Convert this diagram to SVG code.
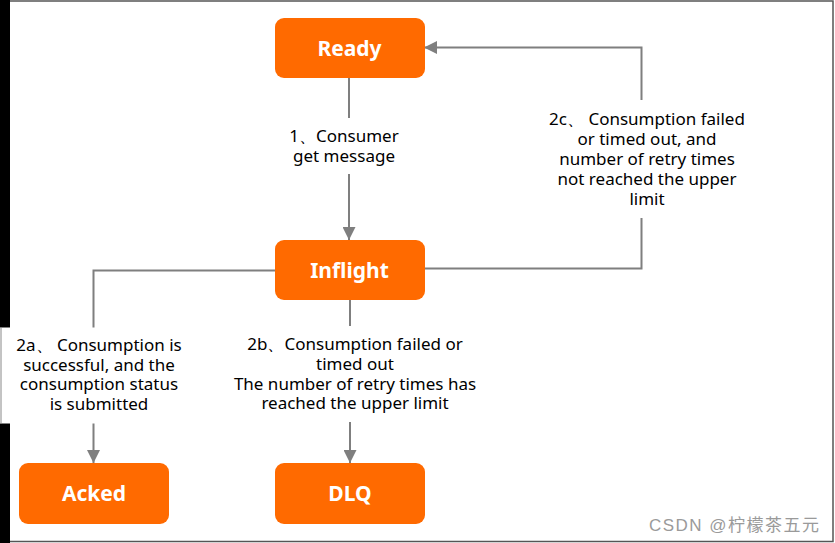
<svg xmlns="http://www.w3.org/2000/svg" width="835" height="543" viewBox="0 0 835 543">
<defs>
<style>
.node rect{fill:#FF6A00}
.node text{fill:#fff;font-family:"Noto Sans","Open Sans",sans-serif;font-size:21px;font-weight:bold;text-anchor:middle}
.conn{fill:none;stroke:#7f7f7f;stroke-width:2}
.lbl text{fill:#000;font-family:"Noto Sans","Open Sans",sans-serif;font-size:17px;text-anchor:middle}
.lbl rect{fill:#fff}
</style>
<marker id="arr" markerUnits="userSpaceOnUse" markerWidth="13" markerHeight="13" viewBox="0 0 13 13" refX="13" refY="6.5" orient="auto">
<path d="M0,0 L13,6.5 L0,13 z" fill="#7f7f7f"/>
</marker>
</defs>
<rect x="0" y="0" width="835" height="543" fill="#fff"/>
<rect x="0" y="0" width="10" height="543" fill="#000"/>
<path d="M10 1 H833 V541.5 H10" fill="none" stroke="#555" stroke-width="1.5"/>

<g id="connectors">
<path class="conn" d="M349 78 V240" marker-end="url(#arr)"/>
<path class="conn" d="M424 268.5 H641.5 V47.5 H424" marker-end="url(#arr)"/>
<path class="conn" d="M275 270.5 H93.5 V463" marker-end="url(#arr)"/>
<path class="conn" d="M350 300 V463" marker-end="url(#arr)"/>
</g>

<g id="label1" class="lbl">
<rect x="285" y="118" width="120" height="56"/>
<text x="344" y="142">1、Consumer</text>
<text x="344" y="162">get message</text>
</g>
<g id="label2c" class="lbl">
<rect x="540" y="100" width="215" height="118"/>
<text x="647" y="125">2c、 Consumption failed</text>
<text x="647" y="145">or timed out, and</text>
<text x="647" y="165">number of retry times</text>
<text x="647" y="185">not reached the upper</text>
<text x="647" y="205">limit</text>
</g>
<g id="label2a" class="lbl">
<rect x="0" y="327.5" width="188" height="96"/>
<line x1="1" y1="328" x2="1" y2="423" stroke="#888" stroke-width="1"/>
<text x="99" y="351">2a、 Consumption is</text>
<text x="99" y="371">successful, and the</text>
<text x="99" y="390">consumption status</text>
<text x="99" y="410">is submitted</text>
</g>
<g id="label2b" class="lbl">
<rect x="218" y="326" width="274" height="96"/>
<text x="355" y="350">2b、Consumption failed or</text>
<text x="355" y="370">timed out</text>
<text x="355" y="390">The number of retry times has</text>
<text x="355" y="409">reached the upper limit</text>
</g>

<g id="ready" class="node"><rect x="275" y="18" width="150" height="60" rx="9"/><text x="349.5" y="55.5">Ready</text></g>
<g id="inflight" class="node"><rect x="275" y="240" width="150" height="60" rx="9"/><text x="349.5" y="278">Inflight</text></g>
<g id="acked" class="node"><rect x="19" y="463" width="150" height="61" rx="9"/><text x="94" y="501">Acked</text></g>
<g id="dlq" class="node"><rect x="275" y="463" width="150" height="61" rx="9"/><text x="350" y="501">DLQ</text></g>

<text x="649" y="531" textLength="170" lengthAdjust="spacing" font-family="'Liberation Sans','Noto Sans CJK SC',sans-serif" font-size="17" fill="#9a9a9a">CSDN @柠檬茶五元</text>
</svg>
